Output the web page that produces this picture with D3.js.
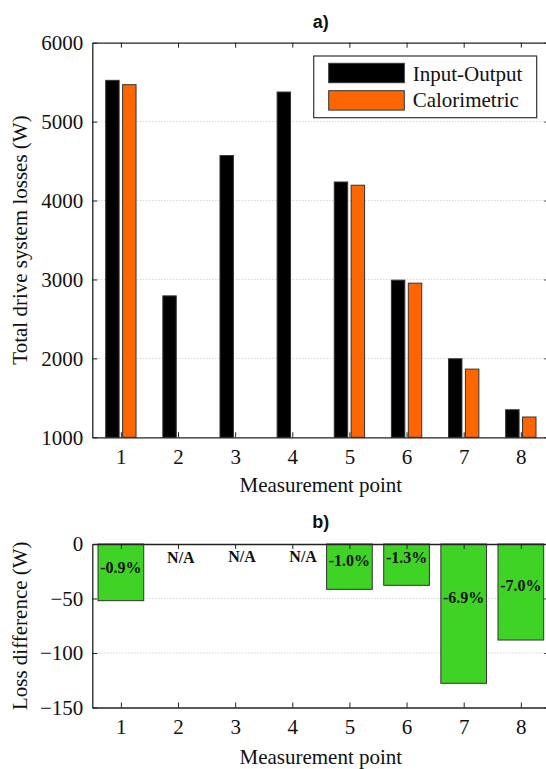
<!DOCTYPE html>
<html>
<head>
<meta charset="utf-8">
<script src="https://cdn.jsdelivr.net/npm/d3@7"></script>
<style>
  body { margin: 0; background: #fff; }
  svg { display: block; }
  text { font-family: "Liberation Serif", "Times New Roman", serif; fill: #111; }
  .title { font-family: "Liberation Sans", Arial, sans-serif; font-weight: bold; font-size: 18px; }
  .axis text { font-size: 21px; font-family: "Liberation Serif", "Times New Roman", serif; fill: #111; }
  .axis path, .axis line { stroke: #222; }
  .grid line { stroke: #c4c4c4; stroke-dasharray: 1,2; }
  .barlbl { font-weight: bold; font-size: 16px; }
</style>
</head>
<body>
<script>
// measurement points
var points = [1, 2, 3, 4, 5, 6, 7, 8];

// total drive system losses (W), null = no calorimetric measurement
var inputOutput  = [5523, 2792, 4570, 5375, 4235, 2991, 1995, 1349];
var calorimetric = [5468, null, null, null, 4194, 2953, 1864, 1257];

// loss difference (W) and the text written on each bar
var lossDiff   = [-52, null, null, null, -41.6, -37.9, -127.8, -88.1];
var diffLabels = ["-0.9%", "N/A", "N/A", "N/A", "-1.0%", "-1.3%", "-6.9%", "-7.0%"];
var labelX     = [1, 2.05, 3.12, 4.19, 5, 6, 7, 8];
var labelY     = [-26.6, -17.4, -16.5, -16.5, -20.2, -17.4, -54.1, -43.1];

var topTicks = [1000, 2000, 3000, 4000, 5000, 6000];
var botTicks = [-150, -100, -50, 0];

var seriesNames  = ["Input-Output", "Calorimetric"];
var seriesColors = ["#000000", "#ff6600"];
var diffColor = "#3fd326";

var W = 546, H = 769;
var svg = d3.select("body").append("svg")
    .attr("width", W)
    .attr("height", H);

var x = d3.scaleLinear().domain([0.5, 8.5]).range([92.3, 549.4]);
var yTop = d3.scaleLinear().domain([1000, 6000]).range([437.3, 42.7]);
var yBot = d3.scaleLinear().domain([-150, 0]).range([707.5, 544]);

// draws grid, axes and labels of one panel, returns the layer for the bars
function drawFrame(y, ticks, xLabelY, yLabel, title, titleY) {
    var y0 = y.range()[0], y1 = y.range()[1];
    var x0 = x.range()[0], x1 = x.range()[1];
    var g = svg.append("g");

    g.append("g").attr("class", "grid")
        .selectAll("line")
        .data(ticks.filter(function(t){ return t !== y.domain()[0] && t !== y.domain()[1]; }))
        .enter().append("line")
            .attr("x1", x0).attr("x2", x1)
            .attr("y1", function(d){ return y(d); })
            .attr("y2", function(d){ return y(d); });

    var barLayer = g.append("g");

    var ga = g.append("g");
    ga.append("g").attr("class", "axis")
        .attr("transform", "translate(0," + y0 + ")")
        .call(d3.axisBottom(x).tickValues(points).tickSize(-5).tickPadding(12).tickSizeOuter(0));
    ga.append("g").attr("class", "axis")
        .attr("transform", "translate(0," + y1 + ")")
        .call(d3.axisTop(x).tickValues(points).tickSize(-5).tickFormat("").tickSizeOuter(0));
    ga.append("g").attr("class", "axis")
        .attr("transform", "translate(" + x0 + ",0)")
        .call(d3.axisLeft(y).tickValues(ticks).tickFormat(d3.format("d")).tickSize(-5).tickPadding(9).tickSizeOuter(0));
    ga.append("g").attr("class", "axis")
        .attr("transform", "translate(" + x1 + ",0)")
        .call(d3.axisRight(y).tickValues(ticks).tickSize(-5).tickFormat("").tickSizeOuter(0));
    ga.selectAll(".domain").attr("stroke-width", 1.3);
    ga.selectAll("text").attr("fill", "#111");

    g.append("text")
        .attr("x", (x0 + x1) / 2).attr("y", xLabelY)
        .attr("text-anchor", "middle")
        .style("font-size", "21px")
        .text("Measurement point");

    g.append("text")
        .attr("transform", "translate(27," + ((y0 + y1) / 2) + ") rotate(-90)")
        .attr("text-anchor", "middle")
        .style("font-size", "21px")
        .text(yLabel);

    g.append("text").attr("class", "title")
        .attr("x", (x0 + x1) / 2).attr("y", titleY)
        .attr("text-anchor", "middle")
        .text(title);
    return barLayer;
}

// ---------- a) total losses ----------
var barsTop = drawFrame(yTop, topTicks, 492, "Total drive system losses (W)", "a)", 27.7);

var barW = 0.235, offs = [-0.148, 0.148];
[inputOutput, calorimetric].forEach(function(vals, s) {
    barsTop.append("g")
        .selectAll("rect")
        .data(points.map(function(p, i){ return { p: p, v: vals[i] }; })
                    .filter(function(d){ return d.v != null; }))
        .enter().append("rect")
            .attr("x", function(d){ return x(d.p + offs[s] - barW / 2); })
            .attr("width", x(barW) - x(0))
            .attr("y", function(d){ return yTop(d.v); })
            .attr("height", function(d){ return yTop(1000) - yTop(d.v); })
            .attr("fill", seriesColors[s])
            .attr("stroke", "#333")
            .attr("stroke-width", 1);
});

// legend
var lg = svg.append("g");
lg.append("rect")
    .attr("x", 313.7).attr("y", 56).attr("width", 223).attr("height", 61.7)
    .attr("fill", "#fff").attr("stroke", "#333").attr("stroke-width", 1.2);
seriesNames.forEach(function(name, s) {
    lg.append("rect")
        .attr("x", 328.7).attr("y", 63.3 + s * 27.4)
        .attr("width", 75.6).attr("height", 19.4)
        .attr("fill", seriesColors[s]).attr("stroke", "#333").attr("stroke-width", 1);
    lg.append("text")
        .attr("x", 412.7).attr("y", 80.8 + s * 26.6)
        .style("font-size", "21px")
        .text(name);
});

// ---------- b) loss difference ----------
var barsBot = drawFrame(yBot, botTicks, 764, "Loss difference (W)", "b)", 528.3);

var diffW = 0.8;
barsBot.selectAll("rect")
    .data(points.map(function(p, i){ return { p: p, v: lossDiff[i] }; })
                .filter(function(d){ return d.v != null; }))
    .enter().append("rect")
        .attr("x", function(d){ return x(d.p - diffW / 2); })
        .attr("width", x(diffW) - x(0))
        .attr("y", yBot(0))
        .attr("height", function(d){ return yBot(d.v) - yBot(0); })
        .attr("fill", diffColor)
        .attr("stroke", "#333")
        .attr("stroke-width", 1);

svg.append("g")
    .selectAll("text")
    .data(diffLabels)
    .enter().append("text")
        .attr("class", "barlbl")
        .attr("x", function(d, i){ return x(labelX[i]); })
        .attr("y", function(d, i){ return yBot(labelY[i]); })
        .attr("text-anchor", "middle")
        .text(function(d){ return d; });
</script>
</body>
</html>
